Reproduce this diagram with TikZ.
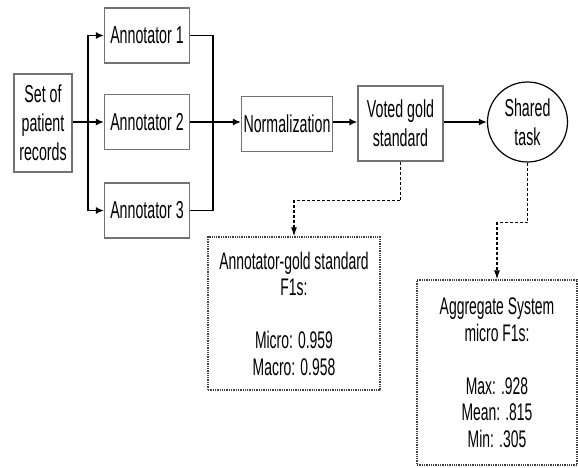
\documentclass[tikz,border=0pt]{standalone}
\usepackage{fontspec}
\setmainfont{Liberation Sans}[FakeStretch=0.58]
\usetikzlibrary{arrows.meta}
\tikzset{
  procbox/.style={draw=black!55, line width=1.1pt, fill=white,
    minimum height=55pt, align=center, inner sep=1pt,
    font=\fontsize{24.5}{29}\selectfont},
  taskcirc/.style={draw, circle, line width=1.2pt, minimum size=80pt,
    align=center, inner sep=0pt, font=\fontsize{24.5}{29}\selectfont},
  scorebox/.style={draw=black!75, densely dotted, line width=1.3pt,
    align=center, font=\fontsize{24}{26.5}\selectfont},
  arr/.style={-{Latex[length=8pt,width=7pt]}, line width=1.6pt},
  darr/.style={-{Latex[length=9pt,width=6pt]}, line width=1.2pt, densely dashed},
}

\begin{document}
\begin{tikzpicture}[x=1pt,y=-1pt]
  \useasboundingbox (0,0) rectangle (578,468);

  % Input records
  \node[procbox, minimum width=58pt, minimum height=98pt] (records) at (43,123)
    {Set of\\patient\\records};

  % Three annotators
  \node[procbox, minimum width=85pt] (ann1) at (147,35.5) {Annotator 1};
  \node[procbox, minimum width=85pt] (ann2) at (147,122) {Annotator 2};
  \node[procbox, minimum width=85pt] (ann3) at (147,210.5) {Annotator 3};

  % Pipeline
  \node[procbox, minimum width=91pt] (norm) at (287,124) {Normalization};
  \node[procbox, minimum width=85pt, minimum height=75pt] (voted) at (400.5,123.5)
    {Voted gold\\standard};
  \node[taskcirc] (shared) at (527.5,122) {Shared\\task};

  % Scores
  \node[scorebox, minimum width=172pt, minimum height=153pt] (goldf1) at (294,313.5)
    {Annotator-gold standard\\F1s:\\\mbox{}\\Micro: 0.959\\Macro: 0.958};
  \node[scorebox, minimum width=160pt, minimum height=185pt] (sysf1) at (497,372.5)
    {Aggregate System\\micro F1s:\\\mbox{}\\Max: .928\\Mean: .815\\Min: .305};

  % Split and merge points
  \coordinate (split) at (88,122);
  \coordinate (merge) at (213,122);

  % Arrows
  \draw[line width=2.6pt] (records.east |- split) -- (split);
  \draw[arr] (split) |- (ann1.west);
  \draw[arr] (split) -- (ann2.west);
  \draw[arr] (split) |- (ann3.west);
  \draw[line width=1.6pt] (ann1.east) -| (merge);
  \draw[line width=1.6pt] (ann3.east) -| (merge);
  \draw[arr] (ann2.east) -- (norm.west |- ann2.east);
  \draw[arr] (norm.east |- ann2.east) -- (voted.west |- ann2.east);
  \draw[arr] (voted.east |- shared) -- (shared.west);

  % Dashed links to scores
  \draw[darr] (voted.south) -- ++(0,39) -| (goldf1.north);
  \draw[darr] (shared.south) -- ++(0,60) -| (sysf1.north);
\end{tikzpicture}
\end{document}
